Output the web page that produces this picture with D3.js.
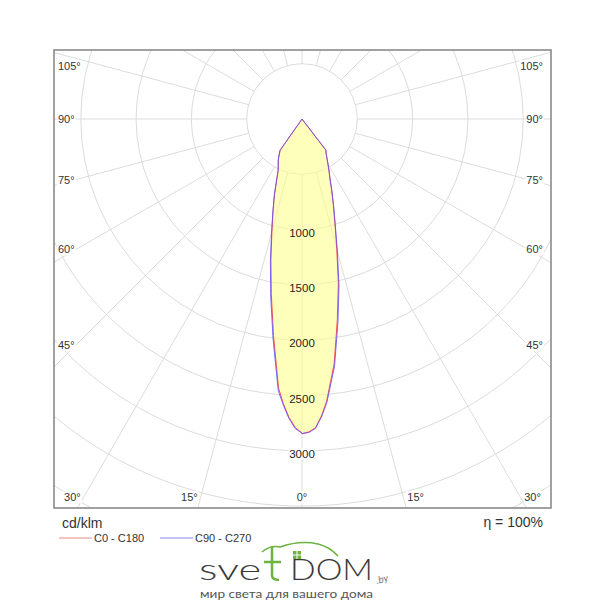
<!DOCTYPE html>
<html><head><meta charset="utf-8">
<script src="https://cdn.jsdelivr.net/npm/d3@7"></script>
<style>body{margin:0;background:#fff}svg{display:block}</style>
</head><body>
<svg id="chart" width="600" height="600"></svg>
<script>
// ---- data (cd/klm) ----
const gamma = [0,1.25,2.5,3.75,5,7.5,10,12.5,15,17.5,20,22.5,25,27.5,30,32.5,35,37.5,40,45,60,90,120,150,180];
const C0    = [2845,2830,2795,2690,2560,2230,1840,1520,1215,990,830,705,600,530,470,420,380,355,0,0,0,0,0,0,0];
const C180  = [2840,2790,2700,2580,2440,1975,1600,1300,1050,870,730,600,510,465,430,385,345,0,0,0,0,0,0,0,0];
const C90   = [2845,2835,2800,2700,2575,2255,1870,1545,1235,1000,835,705,600,530,470,420,380,355,0,0,0,0,0,0,0];
const C270  = [2840,2800,2710,2590,2465,2005,1630,1320,1065,875,730,600,510,465,430,385,345,0,0,0,0,0,0,0,0];
const ringValues  = [500,1000,1500,2000,2500,3000,3500,4000,4500,5000];
const ringLabels  = [1000,1500,2000,2500,3000];
const gridAngles  = [0,15,30,45,60,75,90,105,120,135,150,165,180,195,210,225,240,255,270,285,300,315,330,345];
const sideLabels  = [45,60,75,90,105];
const bottomLabels= [0,15,30];
const legendItems = ["C0 - C180","C90 - C270"];
const unitText = "cd/klm";
const etaText = "\u03b7 = 100%";

// ---- layout ----
const svg = d3.select("#chart");
const cx = 302, cy = 119;
const frame = {x:54, y:50, w:497, h:458};
const r = d3.scaleLinear().domain([0,500]).range([0,55.3]);
const font = "'Liberation Sans', Arial, sans-serif";
const toRad = d => d*Math.PI/180;

svg.append("defs").append("clipPath").attr("id","fc")
  .append("rect").attr("x",frame.x).attr("y",frame.y).attr("width",frame.w).attr("height",frame.h);

const grid = svg.append("g").attr("clip-path","url(#fc)");
grid.selectAll("circle").data(ringValues).join("circle")
  .attr("cx",cx).attr("cy",cy).attr("r",d=>r(d))
  .attr("fill","none").attr("stroke","#dcdcdc").attr("stroke-width",1);
grid.selectAll("line").data(gridAngles).join("line")
  .attr("x1",d=>cx - Math.sin(toRad(d))*r(500)).attr("y1",d=>cy + Math.cos(toRad(d))*r(500))
  .attr("x2",d=>cx - Math.sin(toRad(d))*r(8000)).attr("y2",d=>cy + Math.cos(toRad(d))*r(8000))
  .attr("stroke","#dcdcdc").attr("stroke-width",1);

function label(g, x, y, txt, anchor){
  const t = g.append("text").attr("x",x).attr("y",y).attr("text-anchor",anchor)
    .attr("dominant-baseline","central").attr("font-family",font)
    .attr("font-size",11).attr("fill","#333").text(txt);
  const b = t.node().getBBox();
  g.insert("rect",":first-child").attr("x",b.x-1).attr("y",b.y).attr("width",b.width+2).attr("height",b.height)
    .attr("fill","#fff");
  return t;
}

// angle labels
const angG = svg.append("g");
sideLabels.forEach(a=>{
  const yy = Math.max(66, cy + (cx-76)*Math.cos(toRad(a))/Math.sin(toRad(a)));
  label(angG, 58, yy, a+"\u00b0", "start");
  label(angG, 543, yy, a+"\u00b0", "end");
});
bottomLabels.forEach(a=>{
  const dx = (497-cy)*Math.tan(toRad(a));
  if(a===0){ label(angG, cx, 497, "0\u00b0", "middle"); }
  else {
    label(angG, cx-dx-3, 497, a+"\u00b0", "end");
    label(angG, cx+dx+4, 497, a+"\u00b0", "start");
  }
});

// curves
function polyPoints(left,right){
  const pts = [];
  for(let i=gamma.length-1;i>=0;i--) pts.push({a:Math.PI+toRad(gamma[i]), v:left[i]});
  for(let i=0;i<gamma.length;i++) pts.push({a:Math.PI-toRad(gamma[i]), v:right[i]});
  return pts;
}
const radial = d3.lineRadial().angle(d=>d.a).radius(d=>r(d.v)).curve(d3.curveLinearClosed);
const plot = svg.append("g").attr("transform",`translate(${cx},${cy})`);
const cdBg = plot.append("g");
plot.append("path").attr("d",radial(polyPoints(C180,C0))).attr("fill","#ffff8c").attr("fill-opacity",0.58).attr("stroke","none");
plot.append("path").attr("d",radial(polyPoints(C180,C0))).attr("fill","none").attr("stroke","#ff4d4d").attr("stroke-width",1);
plot.append("path").attr("d",radial(polyPoints(C270,C90))).attr("fill","none").attr("stroke","#5a4dff").attr("stroke-width",1).attr("stroke-opacity",0.8);

// cd labels
const cdG = svg.append("g");
ringLabels.forEach(v=>{
  const t = cdG.append("text").attr("x",cx).attr("y",cy+r(v)+3).attr("text-anchor","middle")
    .attr("dominant-baseline","central").attr("font-family",font).attr("font-size",11.5)
    .attr("fill","#222").text(v);
  const b = t.node().getBBox();
  cdBg.append("rect").attr("x",b.x-cx-1).attr("y",b.y-cy).attr("width",b.width+2).attr("height",b.height).attr("fill","#fff");
});

// frame
svg.append("rect").attr("x",frame.x).attr("y",frame.y).attr("width",frame.w).attr("height",frame.h)
  .attr("fill","none").attr("stroke","#8a8a8a").attr("stroke-width",1.6);

// legend
svg.append("text").attr("x",62).attr("y",523).attr("dominant-baseline","central")
  .attr("font-family",font).attr("font-size",14).attr("fill","#333").text(unitText);
svg.append("text").attr("x",543).attr("y",522).attr("text-anchor","end").attr("dominant-baseline","central")
  .attr("font-family",font).attr("font-size",14).attr("fill","#333").text(etaText);
const legColors = ["#f08a8a","#8a8af0"];
const legX = [59,160];
legendItems.forEach((s,i)=>{
  svg.append("line").attr("x1",legX[i]).attr("x2",legX[i]+33).attr("y1",538).attr("y2",538)
    .attr("stroke",legColors[i]).attr("stroke-width",1);
  svg.append("text").attr("x",legX[i]+35).attr("y",538).attr("dominant-baseline","central")
    .attr("font-family",font).attr("font-size",11).attr("fill","#333").text(s);
});

// logo
const logo = svg.append("g");
const lf = "Lato, 'Open Sans', sans-serif";
logo.append("text").attr("x",199).attr("y",580).attr("font-family",lf).attr("font-weight",300)
  .attr("font-size",30).attr("fill","#3a3a3a").attr("textLength",62).attr("lengthAdjust","spacingAndGlyphs").text("sve");
logo.append("text").attr("x",290).attr("y",580).attr("font-family",lf).attr("font-weight",300)
  .attr("font-size",30).attr("fill","#3a3a3a").attr("textLength",83).attr("lengthAdjust","spacingAndGlyphs").text("DOM");
// green t + roof
logo.append("path").attr("d","M272 547 L272 575 Q272 580 279 580 M264 562 L281 562")
  .attr("fill","none").attr("stroke","#6cb33f").attr("stroke-width",2.5);
logo.append("path").attr("d","M262 552 Q270 545 280 547 Q300 540 318 544 Q330 547 338 556")
  .attr("fill","none").attr("stroke","#6cb33f").attr("stroke-width",1.6);
[[293,551],[297.5,551],[293,555.5],[297.5,555.5]].forEach(p=>{
  logo.append("rect").attr("x",p[0]).attr("y",p[1]).attr("width",3.5).attr("height",3.5).attr("fill","#6cb33f");
});
logo.append("text").attr("x",377).attr("y",584).attr("font-family",lf).attr("font-style","italic")
  .attr("font-size",10).attr("fill","#777").attr("transform","rotate(-15 377 584)").text(".by");
logo.append("text").attr("x",200).attr("y",598).attr("font-family",lf)
  .attr("font-size",11.5).attr("fill","#555").attr("textLength",173).attr("lengthAdjust","spacingAndGlyphs")
  .text("мир света для вашего дома");
</script>
</body></html>
